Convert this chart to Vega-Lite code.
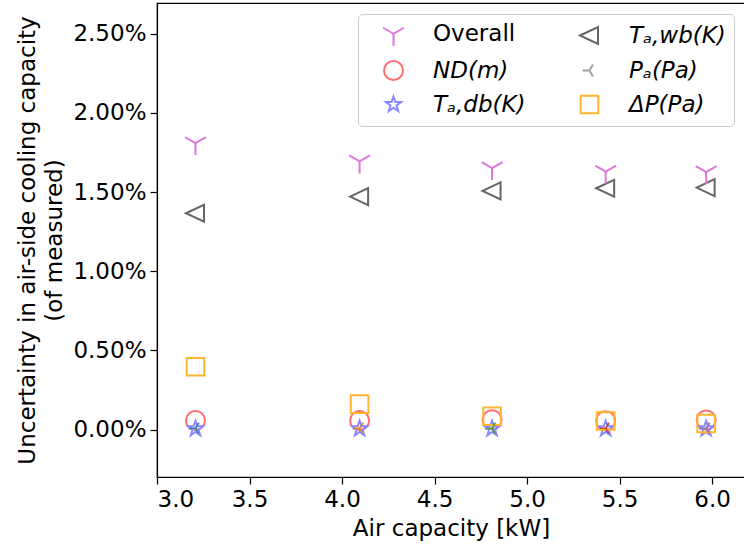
{
  "$schema": "https://vega.github.io/schema/vega-lite/v6.json",
  "width": 588,
  "height": 474,
  "autosize": {"type": "none"},
  "padding": {"left": 157, "top": 3, "right": 0, "bottom": 68},
  "background": "white",
  "config": {
    "view": {"stroke": "black", "strokeWidth": 1.2},
    "font": "DejaVu Sans",
    "axis": {
      "labelFont": "DejaVu Sans", "labelFontSize": 23, "labelColor": "black",
      "titleFont": "DejaVu Sans", "titleFontSize": 23, "titleFontWeight": "normal", "titleColor": "black",
      "domainColor": "black", "domainWidth": 1.2, "tickColor": "black", "tickSize": 7, "tickWidth": 1.2,
      "grid": false, "labelPadding": 4
    },
    "legend": {
      "labelFont": "DejaVu Sans", "labelFontSize": 23, "labelColor": "black", "labelLimit": 400
    }
  },
  "datasets": {
    "main": [
      {"series": "ND(m)", "x": 3.208, "y": 0.00057},
      {"series": "ND(m)", "x": 4.095, "y": 0.00057},
      {"series": "ND(m)", "x": 4.811, "y": 0.00062},
      {"series": "ND(m)", "x": 5.425, "y": 0.00055},
      {"series": "ND(m)", "x": 5.968, "y": 0.0006},
      {"series": "Pₐ(Pa)", "x": 3.208, "y": 0.00005},
      {"series": "Pₐ(Pa)", "x": 4.095, "y": 0.00005},
      {"series": "Pₐ(Pa)", "x": 4.811, "y": 0.00005},
      {"series": "Pₐ(Pa)", "x": 5.425, "y": 0.00005},
      {"series": "Pₐ(Pa)", "x": 5.968, "y": 0.00005},
      {"series": "Tₐ,db(K)", "x": 3.208, "y": 0.00005},
      {"series": "Tₐ,db(K)", "x": 4.095, "y": 0.00005},
      {"series": "Tₐ,db(K)", "x": 4.811, "y": 0.00005},
      {"series": "Tₐ,db(K)", "x": 5.425, "y": 0.00005},
      {"series": "Tₐ,db(K)", "x": 5.968, "y": 0.00005},
      {"series": "Tₐ,wb(K)", "x": 3.208, "y": 0.01366},
      {"series": "Tₐ,wb(K)", "x": 4.095, "y": 0.01471},
      {"series": "Tₐ,wb(K)", "x": 4.811, "y": 0.01507},
      {"series": "Tₐ,wb(K)", "x": 5.425, "y": 0.01524},
      {"series": "Tₐ,wb(K)", "x": 5.968, "y": 0.01528},
      {"series": "Overall", "x": 3.208, "y": 0.01809},
      {"series": "Overall", "x": 4.095, "y": 0.01693},
      {"series": "Overall", "x": 4.811, "y": 0.01651},
      {"series": "Overall", "x": 5.425, "y": 0.01629},
      {"series": "Overall", "x": 5.968, "y": 0.01626},
      {"series": "ΔP(Pa)", "x": 3.208, "y": 0.00396},
      {"series": "ΔP(Pa)", "x": 4.095, "y": 0.0016},
      {"series": "ΔP(Pa)", "x": 4.811, "y": 0.00084},
      {"series": "ΔP(Pa)", "x": 5.425, "y": 0.00054},
      {"series": "ΔP(Pa)", "x": 5.968, "y": 0.00038}
    ],
    "extra": [
      {"run": "1", "x": 3.208, "y": 0.00008},
      {"run": "2", "x": 4.095, "y": 0.00008},
      {"run": "3", "x": 4.811, "y": 0.00008},
      {"run": "4", "x": 5.425, "y": 0.00008},
      {"run": "5", "x": 5.968, "y": 0.00008}
    ]
  },
  "layer": [
    {
      "data": {"name": "main"},
      "mark": {"type": "point", "filled": false, "size": 400, "strokeWidth": 2, "opacity": 1},
      "encoding": {
        "x": {
          "field": "x", "type": "quantitative",
          "scale": {"domain": [3.0, 6.178], "nice": false, "zero": false},
          "axis": {"values": [3.0, 3.5, 4.0, 4.5, 5.0, 5.5, 6.0], "format": ".1f", "title": "Air capacity [kW]", "titlePadding": 6}
        },
        "y": {
          "field": "y", "type": "quantitative",
          "scale": {"domain": [-0.003, 0.02694], "nice": false, "zero": false},
          "axis": {
            "values": [0, 0.005, 0.01, 0.015, 0.02, 0.025], "format": ".2%",
            "title": ["Uncertainty in air-side cooling capacity", "(of measured)"],
            "titleLineHeight": 27, "titlePadding": 6
          }
        },
        "color": {
          "field": "series", "type": "nominal",
          "scale": {
            "domain": ["Overall", "ND(m)", "Tₐ,db(K)", "Tₐ,wb(K)", "Pₐ(Pa)", "ΔP(Pa)"],
            "range": ["#dd77dd", "#ff6f6f", "#8888ff", "#666666", "#9f9f9f", "#ffb52e"]
          },
          "legend": {
            "title": null, "orient": "top-right", "offset": 11, "columns": 2,
            "padding": 8, "rowPadding": 7, "columnPadding": 36,
            "symbolSize": 400, "symbolStrokeWidth": 2, "symbolOffset": 16, "labelOffset": 28,
            "strokeColor": "#cccccc", "cornerRadius": 4, "fillColor": "rgba(255,255,255,0.8)",
            "labelFontStyle": {"expr": "datum.label === 'Overall' ? 'normal' : 'italic'"}
          }
        },
        "shape": {
          "field": "series", "type": "nominal",
          "scale": {
            "domain": ["Overall", "ND(m)", "Tₐ,db(K)", "Tₐ,wb(K)", "Pₐ(Pa)", "ΔP(Pa)"],
            "range": [
              "M0,0L0,1.2M0,0L-1.04,-0.6M0,0L1.04,-0.6",
              "M0.95,0A0.95,0.95,0,1,1,-0.95,0A0.95,0.95,0,1,1,0.95,0Z",
              "M0,-0.8L0.188,-0.259L0.761,-0.247L0.304,0.099L0.47,0.647L0,0.32L-0.47,0.647L-0.304,0.099L-0.761,-0.247L-0.188,-0.259Z",
              "M-0.95,0L0.85,-0.85L0.85,0.85Z",
              "M0,0L-0.7,0M0,0L0.35,-0.6M0,0L0.35,0.6",
              "M-0.88,-0.88L0.88,-0.88L0.88,0.88L-0.88,0.88Z"
            ]
          },
          "legend": {"title": null}
        }
      }
    },
    {
      "data": {"name": "extra"},
      "mark": {"type": "point", "filled": false, "size": 400, "strokeWidth": 1.5, "shape": "M0,0L-0.6,0M0,0L0.3,-0.52M0,0L0.3,0.52", "opacity": 0.8},
      "encoding": {
        "x": {"field": "x", "type": "quantitative"},
        "y": {"field": "y", "type": "quantitative"},
        "stroke": {
          "field": "run", "type": "nominal",
          "scale": {"domain": ["1", "2", "3", "4", "5"], "range": ["#1f77b4", "#ff7f0e", "#2ca02c", "#d62728", "#9467bd"]},
          "legend": null
        }
      }
    }
  ]
}
